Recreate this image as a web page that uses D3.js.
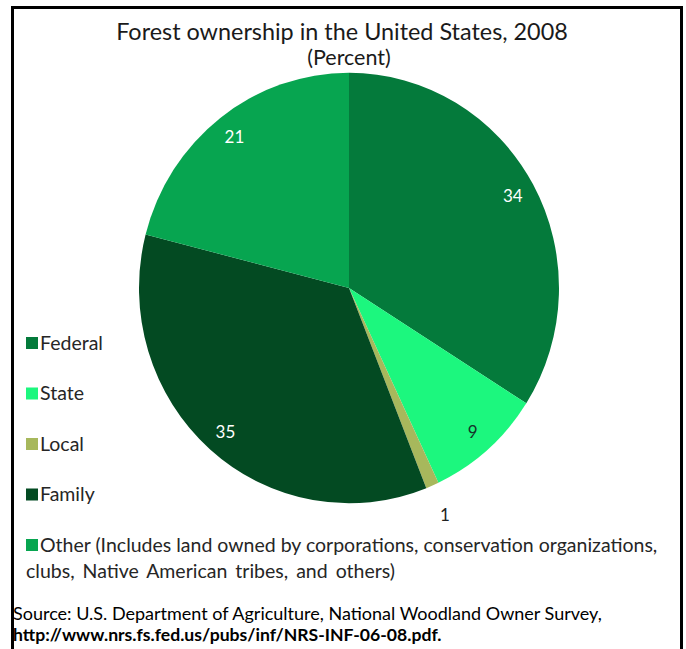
<!DOCTYPE html>
<html>
<head>
<meta charset="utf-8">
<script src="https://cdn.jsdelivr.net/npm/d3@7"></script>
<style>
  body { margin: 0; background: #fff; }
  svg { display: block; font-family: Lato, "Open Sans", sans-serif; }
</style>
</head>
<body>
<svg id="chart" width="686" height="649"></svg>
<script>
// slices, clockwise from 12 o'clock
const categories = ["Federal", "State", "Local", "Family", "Other"];
const values = [34, 9, 1, 35, 21];
const legendLines = [
    ["Federal"],
    ["State"],
    ["Local"],
    ["Family"],
    ["Other (Includes land owned by corporations, conservation organizations,",
     "clubs, Native American tribes, and others)"]
];
const titleLines = ["Forest ownership in the United States, 2008", "(Percent)"];
const sourceLines = [
    "Source: U.S. Department of Agriculture, National Woodland Owner Survey,",
    "http://www.nrs.fs.fed.us/pubs/inf/NRS-INF-06-08.pdf."
];

// styles
const colors = ["#047a3b", "#1cf77e", "#a7b85c", "#034a22", "#07a550"];
const labelColors = ["#ffffff", "#15332a", "#222222", "#ffffff", "#ffffff"];

const svg = d3.select("#chart");

// frame, open at the bottom like the cropped original
svg.append("path")
    .attr("d", "M12.5,649 V7.5 H681.5 V649")
    .attr("fill", "none")
    .attr("stroke", "#000")
    .attr("stroke-width", 3);

// title
svg.append("text")
    .attr("x", 342).attr("y", 40)
    .attr("text-anchor", "middle")
    .style("font-size", "23.4px")
    .style("fill", "#1a1a1a")
    .text(titleLines[0]);
svg.append("text")
    .attr("x", 349).attr("y", 65)
    .attr("text-anchor", "middle")
    .style("font-size", "21.5px")
    .style("fill", "#1a1a1a")
    .text(titleLines[1]);

// the pie (the original is a touch taller than wide)
const cx = 349, cy = 288, radius = 210, squash = 1.025;
const g = svg.append("g")
    .attr("transform", "translate(" + cx + "," + cy + ") scale(1," + squash + ")");

const pie = d3.pie().sort(null).value(d => d.value);
const pieData = pie(categories.map((c, i) => ({name: c, value: values[i], i: i})));

const arc = d3.arc().innerRadius(0).outerRadius(radius);
const labelArc = d3.arc().innerRadius(radius * 0.89).outerRadius(radius * 0.89);
const outerArc = d3.arc().innerRadius(radius * 1.15).outerRadius(radius * 1.15);

g.selectAll("path.slice")
    .data(pieData)
    .enter().append("path")
    .attr("class", "slice")
    .attr("d", arc)
    .style("fill", d => colors[d.data.i]);

// value labels, tiny slices get theirs outside
svg.append("g")
    .attr("transform", "translate(" + cx + "," + cy + ")")
    .selectAll("text.val")
    .data(pieData)
    .enter().append("text")
    .attr("class", "val")
    .attr("transform", d => {
        let p = (d.data.value < 3 ? outerArc : labelArc).centroid(d);
        return "translate(" + p[0] + "," + p[1] * squash + ")";
    })
    .attr("dy", ".35em")
    .attr("text-anchor", "middle")
    .style("font-size", "17px")
    .style("fill", d => labelColors[d.data.i])
    .text(d => d.data.value);

// legend
const legend = svg.append("g").attr("transform", "translate(26,0)");
const legendY = d3.scalePoint().domain(categories).range([343, 545]);

categories.forEach((c, i) => {
    let row = legend.append("g").attr("transform", "translate(0," + legendY(c) + ")");
    row.append("rect")
        .attr("x", 0).attr("y", -6)
        .attr("width", 12).attr("height", 12)
        .style("fill", colors[i]);
    legendLines[i].forEach((line, j) => {
        row.append("text")
            .attr("x", j === 0 ? 14 : 0)
            .attr("y", j * 26)
            .attr("dy", ".35em")
            .style("font-size", "19.5px")
            .style("word-spacing", j === 0 ? "0px" : "3px")
            .style("fill", "#262626")
            .text(line);
    });
});

// source note
sourceLines.forEach((line, j) => {
    svg.append("text")
        .attr("x", 13)
        .attr("y", 620 + j * 21)
        .style("font-size", j === 1 ? "17.6px" : "18px")
        .style("font-weight", j === 1 ? "bold" : "normal")
        .style("fill", "#000")
        .text(line);
});
</script>
</body>
</html>
